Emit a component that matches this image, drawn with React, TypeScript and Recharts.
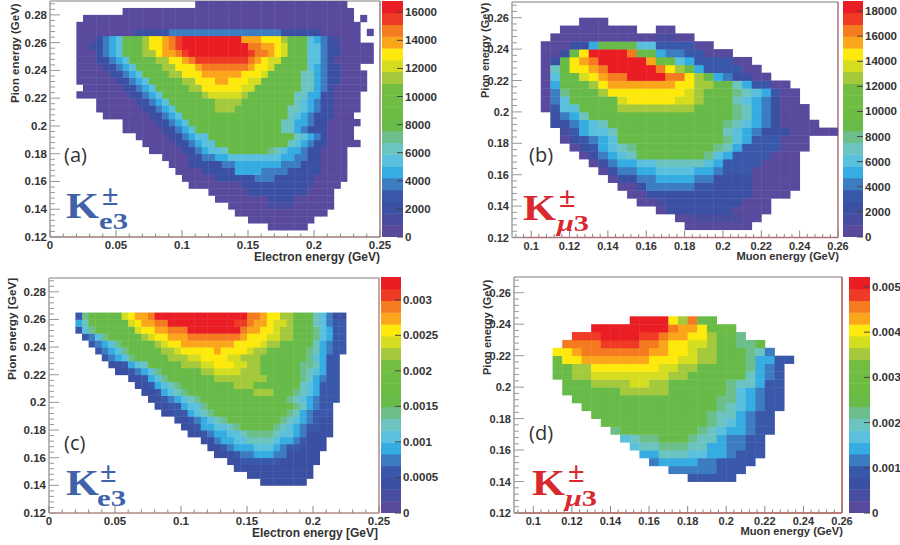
import React from "react";
import { ScatterChart, Scatter, XAxis, YAxis, ReferenceLine } from "recharts";

// each row is one pion energy bin, from the lowest bin up, written as
// [startBin, level, startBin, level, ..., endBin]. level -1 is an empty gap
const electronDataRows: number[][] = [
    [],
    [33, 0, 39],
    [30, 0, 40],
    [28, 0, 42],
    [27, 0, 33, 1, 37, 0, 43],
    [25, 0, 33, 2, 37, 0, 43],
    [24, 0, 30, 2, 39, 0, 43],
    [21, 0, 29, 2, 39, 1, 40, 0, 44],
    [20, 0, 25, 2, 31, 4, 34, 2, 40, 0, 45],
    [19, 0, 23, 2, 28, 5, 32, 4, 36, 2, 41, 0, 45],
    [18, 0, 21, 2, 26, 4, 28, 5, 35, 4, 38, 2, 41, 0, 45],
    [17, 0, 21, 2, 23, 4, 25, 5, 27, 6, 35, 5, 37, 4, 39, 2, 41, 0, 45],
    [15, 0, 20, 2, 22, 4, 23, 5, 24, 6, 26, 7, 27, 9, 33, 8, 34, 7, 35, 6, 36, 5, 38, 4, 39, 2, 41, 0, 45],
    [14, 0, 19, 2, 21, 4, 22, 5, 23, 6, 25, 9, 36, 7, 37, 6, 38, 5, 39, 4, 40, 2, 42, 0, 47],
    [13, 0, 18, 2, 20, 4, 21, 5, 22, 6, 24, 9, 37, 7, 38, 6, 39, 5, 40, 4, 41, 2, 42, 0, 46],
    [11, 0, 17, 2, 19, 4, 20, 5, 21, 6, 22, 9, 35, 7, 37, 5, 38, 4, 39, 2, 42, 0, 46],
    [11, 0, 16, 2, 18, 4, 19, 5, 20, 6, 21, 9, 35, 7, 37, 5, 39, 4, 40, 2, 42, 0, 47],
    [8, 0, 15, 2, 17, 4, 18, 5, 19, 6, 20, 9, 36, 7, 37, 6, 38, 5, 39, 4, 40, 2, 43, 0, 46],
    [7, 0, 14, 2, 16, 4, 17, 5, 18, 6, 19, 9, 25, 13, 28, 9, 36, 7, 38, 6, 39, 5, 40, 4, 41, 2, 43, 0, 47],
    [7, 0, 13, 2, 15, 4, 16, 5, 17, 6, 18, 9, 25, 13, 29, 9, 37, 7, 38, 6, 39, 5, 40, 4, 41, 2, 43, 0, 47],
    [4, 0, 12, 2, 14, 4, 15, 5, 16, 6, 17, 9, 23, 13, 24, 14, 29, 13, 30, 9, 37, 7, 39, 5, 41, 2, 43, 0, 47],
    [5, 0, 11, 2, 13, 4, 14, 5, 15, 6, 16, 9, 21, 13, 23, 15, 29, 14, 31, 9, 38, 7, 40, 5, 41, 4, 42, 2, 43, 0, 48],
    [4, 0, 10, 2, 12, 4, 13, 5, 14, 6, 15, 9, 20, 13, 22, 15, 25, 16, 27, 15, 30, 14, 32, 9, 38, 7, 40, 5, 41, 4, 42, 2, 44, 0, 48],
    [4, 0, 9, 2, 11, 4, 12, 5, 13, 6, 14, 9, 18, 13, 20, 15, 23, 16, 29, 15, 32, 14, 33, 9, 38, 7, 40, 5, 41, 4, 42, 2, 44, 0, 48],
    [4, 0, 8, 2, 10, 4, 11, 5, 12, 6, 13, 9, 17, 13, 19, 15, 22, 16, 23, 17, 30, 16, 31, 15, 33, 14, 34, 9, 39, 6, 40, 5, 41, 4, 42, 2, 44, 0, 47],
    [4, 0, 7, 2, 9, 4, 10, 5, 11, 6, 12, 9, 16, 13, 18, 15, 20, 16, 21, 17, 22, 18, 30, 17, 31, 16, 32, 15, 33, 14, 35, 9, 39, 6, 41, 4, 42, 2, 43, 0, 49],
    [4, 0, 7, 2, 8, 4, 9, 5, 10, 6, 11, 9, 14, 13, 16, 15, 17, 16, 19, 17, 20, 18, 21, 19, 30, 18, 31, 17, 33, 16, 34, 15, 35, 14, 36, 9, 39, 6, 41, 4, 42, 2, 44, 0, 49],
    [4, 0, 6, 2, 8, 4, 9, 5, 10, 6, 11, 9, 14, 13, 15, 15, 17, 16, 18, 17, 19, 18, 20, 19, 30, 17, 32, 16, 34, 15, 35, 14, 36, 9, 39, 6, 41, 4, 42, 2, 44, 0, 49],
    [4, 0, 7, 2, 8, 4, 9, 5, 10, 6, 11, 9, 14, 13, 15, 15, 17, 16, 18, 17, 19, 18, 20, 19, 29, 16, 32, 15, 35, 13, 36, 9, 39, 6, 40, 5, 41, 4, 42, 2, 43, 1, 44, 0, 47],
    [4, 0, 13, 2, 18, 4, 35, 2, 41, 0, 47, -1, 48, 0, 49],
    [4, 0, 47],
    [5, 0, 46, -1, 47, 0, 48],
    [11, 0, 46],
    [22, 0, 45],
];

const muonDataRows: number[][] = [
    [],
    [18, 0, 25],
    [17, 0, 19, 1, 24, 0, 26],
    [15, 0, 16, 2, 23, 0, 27],
    [13, 0, 15, 1, 16, 2, 24, 0, 27],
    [12, 0, 14, 2, 25, 0, 29],
    [11, 0, 13, 2, 14, 4, 19, 3, 21, 2, 25, 0, 30],
    [10, 0, 11, 2, 13, 4, 15, 5, 19, 4, 21, 2, 25, 0, 30],
    [9, 0, 10, 2, 11, 4, 13, 5, 15, 6, 19, 5, 21, 4, 22, 3, 25, 0, 30],
    [8, 0, 9, 2, 10, 4, 11, 5, 13, 6, 15, 7, 20, 6, 21, 5, 22, 3, 26, 0, 30],
    [7, 0, 8, 2, 9, 4, 10, 5, 11, 6, 12, 7, 13, 9, 20, 8, 21, 6, 22, 5, 23, 3, 27, 0, 30],
    [6, 0, 7, 2, 8, 3, 9, 5, 10, 6, 11, 7, 12, 8, 13, 9, 21, 8, 22, 7, 23, 5, 24, 3, 28, 0, 31],
    [5, 0, 6, 2, 7, 3, 8, 4, 9, 5, 10, 6, 11, 9, 22, 8, 23, 6, 24, 5, 25, 3, 28, 0, 31],
    [5, 1, 6, 3, 7, 5, 8, 6, 10, 7, 11, 9, 22, 7, 23, 6, 24, 5, 25, 4, 26, 2, 29, 0, 34],
    [4, 2, 6, 4, 7, 5, 8, 6, 9, 7, 10, 9, 22, 8, 23, 7, 24, 6, 25, 5, 26, 4, 27, 2, 28, 0, 32],
    [4, 2, 5, 4, 6, 5, 7, 7, 8, 9, 23, 8, 24, 7, 25, 5, 26, 4, 27, 2, 28, 0, 31],
    [3, 0, 4, 3, 5, 6, 7, 9, 11, 13, 19, 9, 23, 8, 24, 7, 25, 5, 26, 4, 27, 2, 28, 0, 31],
    [3, 0, 4, 4, 5, 6, 6, 9, 11, 14, 12, 15, 17, 14, 19, 13, 20, 9, 23, 7, 24, 6, 25, 5, 26, 4, 27, 2, 28, 0, 30],
    [3, 0, 4, 4, 5, 8, 6, 9, 9, 13, 10, 15, 18, 14, 19, 13, 20, 9, 23, 8, 24, 7, 25, 6, 26, 5, 27, 3, 28, 0, 30],
    [3, 0, 4, 5, 5, 9, 8, 13, 9, 15, 10, 16, 17, 15, 19, 13, 21, 9, 23, 7, 24, 5, 25, 3, 27, 0, 29],
    [3, 0, 4, 6, 5, 9, 7, 14, 8, 15, 9, 16, 10, 17, 12, 19, 16, 17, 18, 15, 19, 13, 20, 9, 21, 5, 22, 4, 23, 2, 25, 0, 27],
    [3, 0, 4, 7, 5, 9, 6, 15, 8, 16, 9, 17, 10, 19, 15, 17, 16, 15, 17, 13, 18, 9, 19, 5, 20, 3, 24, 0, 26],
    [3, 0, 4, 2, 5, 9, 6, 15, 7, 16, 8, 17, 9, 19, 14, 16, 15, 10, 17, 6, 18, 5, 19, 3, 23, 0, 25],
    [3, 0, 5, 2, 6, 9, 7, 15, 8, 19, 12, 17, 13, 9, 15, 5, 16, 4, 18, 3, 20, 0, 23],
    [3, 0, 6, 2, 8, 5, 9, 9, 13, 6, 15, 3, 19, 0, 21],
    [4, 0, 15, 1, 17, 0, 19],
    [5, 0, 13, -1, 15, 0, 17],
    [7, 0, 10],
];

const electronAcceptanceRows: number[][] = [
    [],
    [],
    [],
    [],
    [32, 2, 39],
    [30, 2, 40],
    [28, 2, 40],
    [27, 2, 29, 3, 35, 2, 41],
    [25, 2, 28, 3, 29, 4, 31, 5, 34, 4, 36, 2, 41],
    [24, 2, 26, 3, 27, 4, 28, 5, 31, 6, 34, 5, 35, 4, 36, 3, 38, 2, 42],
    [23, 2, 25, 4, 26, 5, 28, 6, 30, 7, 34, 6, 35, 5, 37, 4, 38, 3, 39, 2, 42],
    [21, 2, 23, 3, 24, 4, 25, 5, 27, 6, 29, 7, 30, 8, 34, 7, 35, 6, 37, 5, 38, 4, 39, 2, 43],
    [20, 2, 22, 3, 23, 5, 25, 6, 27, 7, 28, 8, 29, 9, 34, 8, 35, 7, 36, 6, 37, 5, 38, 4, 39, 3, 41, 2, 43],
    [19, 2, 21, 3, 22, 4, 23, 5, 24, 6, 25, 7, 26, 8, 27, 9, 35, 8, 36, 7, 37, 6, 38, 5, 39, 4, 40, 3, 41, 2, 43],
    [17, 2, 19, 3, 21, 5, 22, 6, 23, 7, 24, 8, 25, 9, 36, 8, 37, 7, 38, 5, 39, 4, 40, 3, 43],
    [16, 2, 18, 3, 20, 5, 21, 6, 23, 8, 24, 9, 37, 8, 38, 7, 39, 5, 40, 4, 41, 3, 43],
    [15, 2, 17, 3, 18, 4, 19, 5, 20, 6, 21, 7, 22, 8, 23, 9, 36, 8, 37, 7, 38, 6, 39, 5, 40, 4, 41, 3, 44],
    [14, 2, 16, 3, 17, 5, 18, 6, 19, 7, 20, 8, 21, 9, 31, 13, 34, 9, 37, 8, 38, 7, 39, 6, 40, 5, 41, 3, 44],
    [13, 2, 15, 3, 16, 5, 17, 6, 18, 7, 19, 8, 20, 9, 28, 13, 31, 9, 38, 7, 39, 6, 40, 5, 41, 3, 44],
    [12, 2, 14, 3, 15, 5, 16, 6, 17, 8, 18, 9, 25, 13, 33, 9, 38, 8, 39, 7, 40, 5, 41, 4, 42, 3, 44],
    [10, 2, 12, 3, 13, 4, 14, 5, 15, 6, 16, 8, 17, 9, 23, 13, 25, 14, 29, 13, 32, 9, 38, 8, 39, 7, 40, 6, 41, 5, 42, 3, 44],
    [9, 2, 11, 3, 12, 5, 13, 6, 14, 7, 15, 9, 20, 13, 23, 14, 25, 15, 28, 14, 30, 13, 32, 9, 38, 8, 40, 7, 41, 5, 42, 3, 44],
    [8, 3, 9, 4, 10, 5, 11, 6, 12, 8, 13, 9, 18, 13, 21, 14, 23, 15, 27, 14, 29, 13, 32, 9, 39, 8, 40, 6, 41, 5, 42, 3, 44],
    [7, 3, 8, 4, 9, 5, 10, 6, 11, 8, 12, 9, 17, 13, 19, 14, 20, 15, 25, 16, 26, 15, 30, 14, 31, 13, 33, 9, 39, 8, 40, 7, 41, 5, 42, 4, 43, 3, 45],
    [6, 3, 7, 4, 8, 5, 9, 6, 10, 8, 11, 9, 16, 13, 17, 14, 18, 15, 20, 16, 28, 15, 32, 14, 33, 13, 35, 9, 40, 7, 41, 5, 42, 4, 43, 3, 45],
    [5, 3, 6, 4, 7, 6, 8, 8, 9, 9, 14, 13, 15, 14, 16, 15, 18, 16, 21, 17, 29, 16, 30, 15, 33, 14, 35, 13, 37, 9, 40, 8, 41, 6, 42, 5, 43, 3, 45],
    [4, 3, 5, 6, 6, 8, 7, 9, 13, 14, 14, 15, 16, 16, 18, 17, 21, 19, 29, 17, 30, 16, 32, 15, 34, 14, 35, 13, 37, 9, 40, 8, 41, 6, 42, 5, 43, 3, 45],
    [4, 5, 5, 7, 6, 9, 12, 14, 13, 15, 14, 16, 16, 17, 18, 19, 28, 18, 30, 17, 31, 16, 33, 15, 34, 14, 36, 13, 37, 9, 40, 7, 41, 6, 42, 4, 43, 3, 45],
    [4, 3, 5, 8, 6, 9, 11, 14, 12, 15, 13, 16, 15, 17, 16, 19, 30, 17, 32, 16, 33, 15, 35, 13, 37, 9, 40, 7, 41, 6, 42, 4, 43, 2, 45],
];

const muonAcceptanceRows: number[][] = [
    [],
    [],
    [],
    [],
    [18, 3, 23],
    [16, 4, 21, 3, 24],
    [14, 4, 15, 5, 19, 4, 21, 3, 25],
    [13, 5, 15, 7, 18, 6, 20, 5, 22, 4, 23, 3, 26],
    [12, 6, 13, 7, 15, 8, 18, 7, 20, 5, 22, 4, 24, 3, 26],
    [11, 6, 12, 7, 13, 8, 15, 9, 18, 8, 19, 7, 21, 5, 22, 4, 24, 3, 26],
    [10, 8, 11, 9, 19, 8, 20, 7, 21, 6, 22, 5, 24, 4, 25, 3, 27],
    [9, 9, 20, 8, 21, 7, 22, 6, 23, 5, 24, 4, 25, 3, 27],
    [8, 9, 20, 8, 21, 7, 23, 5, 24, 4, 25, 3, 27],
    [7, 9, 21, 8, 22, 7, 23, 6, 24, 5, 25, 4, 26, 3, 28],
    [6, 9, 21, 8, 23, 6, 24, 5, 25, 4, 26, 3, 28],
    [5, 9, 11, 13, 16, 9, 22, 8, 23, 6, 24, 5, 25, 4, 26, 3, 28],
    [5, 9, 8, 13, 12, 14, 14, 13, 16, 9, 22, 8, 23, 7, 25, 5, 26, 3, 28],
    [4, 9, 6, 13, 8, 14, 16, 13, 18, 9, 24, 7, 25, 5, 26, 4, 27, 3, 28],
    [4, 9, 6, 13, 8, 15, 15, 14, 17, 13, 19, 9, 24, 8, 25, 5, 26, 4, 27, 3, 28],
    [4, 10, 5, 15, 7, 16, 14, 15, 17, 14, 19, 13, 21, 9, 24, 8, 25, 5, 27, 3, 29],
    [4, 15, 6, 16, 7, 17, 14, 16, 16, 15, 18, 14, 19, 13, 21, 9, 24, 8, 25, 7, 26, 4, 27],
    [5, 17, 9, 18, 13, 17, 15, 16, 16, 15, 18, 14, 20, 13, 21, 9, 23, 8, 25, 9, 26],
    [6, 18, 9, 19, 13, 18, 15, 17, 16, 16, 18, 15, 20, 13, 21, 9, 23, 8, 24],
    [8, 19, 16, 17, 17, 16, 19, 15, 20, 10, 23],
    [12, 19, 16, 15, 17, 13, 18, 17, 19, 9, 21],
];

const levelColors = [
    "#5a4a9e", "#484d9f", "#3b50a3", "#3a58aa", "#3c7cc0",
    "#35ade2", "#5ac0dd", "#6bc4c0", "#6cbf8a", "#68bb48",
    "#6cbc44", "#70bd44", "#72bd42", "#a4c93c", "#d5dd20",
    "#fde90c", "#fba51a", "#f47b20", "#ef3a26", "#ea1d25",
];

const electronMajors = [0, 0.05, 0.1, 0.15, 0.2, 0.25];
const muonMajors = [0.1, 0.12, 0.14, 0.16, 0.18, 0.2, 0.22, 0.24, 0.26];
const pionMajorsWide = [0.12, 0.14, 0.16, 0.18, 0.2, 0.22, 0.24, 0.26, 0.28];
const pionMajorsNarrow = [0.12, 0.14, 0.16, 0.18, 0.2, 0.22, 0.24, 0.26];
const barTicksA = [0, 2000, 4000, 6000, 8000, 10000, 12000, 14000, 16000];
const barTicksB = [0, 2000, 4000, 6000, 8000, 10000, 12000, 14000, 16000, 18000];
const barTicksC = [0, 0.0005, 0.001, 0.0015, 0.002, 0.0025, 0.003];
const barTicksD = [0, 0.001, 0.002, 0.003, 0.004, 0.005];

const BIN = 0.005;
const LEFT_GUTTER = 49;
const RIGHT_GUTTER = 24;
const BOTTOM_GUTTER = 28;
const labelFont = "'Liberation Sans', Arial, sans-serif";
const serifFont = "'Liberation Serif', serif";
const textColor = "#333";

type Box = { left: number; top: number; right: number; bottom: number };
type Cell = { energy: number; pion: number; level: number };

const expandRows = (rows: number[][], xMin: number, yMin: number): Cell[] => {
    const cells: Cell[] = [];
    rows.forEach((row, r) => {
        for (let i = 0; i + 2 < row.length; i += 2) {
            if (row[i + 1] < 0) continue;
            for (let c = row[i]; c < row[i + 2]; c++) {
                cells.push({ energy: xMin + (c + 0.5) * BIN, pion: yMin + (r + 0.5) * BIN, level: row[i + 1] });
            }
        }
    });
    return cells;
};

// minor ticks sit between the labelled ones, up to the end of the axis
const withMinors = (majors: number[], parts: number, lo: number, hi: number) => {
    const step = (majors[1] - majors[0]) / parts;
    const out: number[] = [];
    for (let i = -parts; i < majors.length * parts + parts; i++) {
        const v = Math.round((majors[0] + i * step) * 1e6) / 1e6;
        if (v >= lo && v <= hi) out.push(v);
    }
    return out;
};

const isMajor = (majors: number[], v: number) => majors.some((m) => Math.abs(m - v) < 1e-9);

type PanelProps = {
    box: Box;
    rows: number[][];
    xDomain: [number, number];
    yDomain: [number, number];
    xMajors: number[];
    xParts: number;
    yMajors: number[];
    edgeColor: string;
    labelSize?: number;
};

const Panel = ({ box, rows, xDomain, yDomain, xMajors, xParts, yMajors, edgeColor, labelSize = 11.5 }: PanelProps) => {
    const plotW = box.right - box.left;
    const plotH = box.bottom - box.top;
    const cellW = (plotW * BIN) / (xDomain[1] - xDomain[0]);
    const cellH = (plotH * BIN) / (yDomain[1] - yDomain[0]);
    const cells = expandRows(rows, xDomain[0], yDomain[0]);
    const drawCell = (p: any) => (
        <rect x={p.cx - cellW / 2} y={p.cy - cellH / 2} width={cellW + 0.4} height={cellH + 0.4} fill={levelColors[p.payload.level]} />
    );
    const xTick = ({ x, y, payload }: any) => {
        const major = isMajor(xMajors, payload.value);
        return (
            <g>
                <line x1={x} x2={x} y1={y} y2={y - (major ? 7 : 3.5)} stroke="#888" />
                {major && <text x={x} y={y + 12} textAnchor="middle" fontSize={labelSize} fontWeight="bold" fontFamily={labelFont} fill={textColor}>{payload.value}</text>}
            </g>
        );
    };
    const yTick = ({ x, y, payload }: any) => {
        const major = isMajor(yMajors, payload.value);
        return (
            <g>
                <line x1={x} x2={x + (major ? 10 : 5)} y1={y} y2={y} stroke="#999" />
                {major && <text x={x - 3} y={y + 4} textAnchor="end" fontSize={labelSize} fontWeight="bold" fontFamily={labelFont} fill={textColor}>{payload.value}</text>}
            </g>
        );
    };
    return (
        <div style={{ position: "absolute", left: box.left - LEFT_GUTTER, top: box.top - 2 }}>
            <ScatterChart width={plotW + LEFT_GUTTER + RIGHT_GUTTER} height={plotH + BOTTOM_GUTTER + 2} margin={{ top: 2, right: RIGHT_GUTTER, bottom: 0, left: 0 }}>
                <XAxis
                    type="number"
                    dataKey="energy"
                    domain={xDomain}
                    allowDataOverflow
                    ticks={withMinors(xMajors, xParts, xDomain[0], xDomain[1])}
                    interval={0}
                    height={BOTTOM_GUTTER}
                    tickLine={false}
                    tickSize={0}
                    tickMargin={0}
                    tick={xTick}
                    axisLine={{ stroke: edgeColor, strokeWidth: 1.5 }}
                />
                <YAxis
                    type="number"
                    dataKey="pion"
                    domain={yDomain}
                    allowDataOverflow
                    ticks={withMinors(yMajors, 5, yDomain[0], yDomain[1])}
                    interval={0}
                    width={LEFT_GUTTER}
                    tickLine={false}
                    tickSize={0}
                    tickMargin={0}
                    tick={yTick}
                    axisLine={{ stroke: "#a0a0a0", strokeWidth: 1.5 }}
                />
                <Scatter data={cells} shape={drawCell} isAnimationActive={false} />
                <ReferenceLine y={yDomain[1]} stroke="#a8a8a8" strokeWidth={1.5} />
                <ReferenceLine x={xDomain[1]} stroke={edgeColor} strokeWidth={1.5} />
            </ScatterChart>
        </div>
    );
};

type BarProps = { box: Box; step: number; ticks: number[] };

// palette key: one cell per colour level on a linear value axis
const ColorBar = ({ box, step, ticks }: BarProps) => {
    const barW = box.right - box.left;
    const barH = box.bottom - box.top;
    const cells = levelColors.map((_, level) => ({ energy: 0.5, pion: (level + 0.5) * step, level }));
    const drawCell = (p: any) => (
        <rect x={p.cx - barW / 2} y={p.cy - barH / 40} width={barW} height={barH / 20 + 0.4} fill={levelColors[p.payload.level]} />
    );
    const tick = ({ x, y, payload }: any) => (
        <g>
            <line x1={x - 6} x2={x} y1={y} y2={y} stroke="#444" />
            <text x={x + 2} y={y + 4} fontSize={11.5} fontWeight="bold" fontFamily={labelFont} fill={textColor}>{payload.value}</text>
        </g>
    );
    return (
        <div style={{ position: "absolute", left: box.left, top: box.top - 2 }}>
            <ScatterChart width={barW + 50} height={barH + 10} margin={{ top: 2, right: 0, bottom: 8, left: 0 }}>
                <XAxis type="number" dataKey="energy" domain={[0, 1]} hide />
                <YAxis
                    type="number"
                    dataKey="pion"
                    orientation="right"
                    domain={[0, 20 * step]}
                    allowDataOverflow
                    ticks={ticks}
                    interval={0}
                    width={50}
                    tickLine={false}
                    tickSize={0}
                    tickMargin={0}
                    axisLine={false}
                    tick={tick}
                />
                <Scatter data={cells} shape={drawCell} isAnimationActive={false} />
            </ScatterChart>
        </div>
    );
};

const DecayTag = ({ x, y, color, sub, subX, plusX }: any) => (
    <g fill={color} fontFamily={serifFont} fontWeight="bold">
        <text x={x} y={y} fontSize={36} textLength={33} lengthAdjust="spacingAndGlyphs">K</text>
        <text x={plusX} y={y - 13} fontSize={30}>±</text>
        <text x={subX} y={y + 11} fontSize={23} textLength={sub === "mu" ? 32 : 29} lengthAdjust="spacingAndGlyphs">
            {sub === "mu" ? <><tspan fontStyle="italic">μ</tspan>3</> : "e3"}
        </text>
    </g>
);

const boxA = { left: 49.5, top: 1, right: 379.5, bottom: 237 };
const boxB = { left: 512, top: 1.5, right: 838, bottom: 237 };
const boxC = { left: 49, top: 278, right: 379, bottom: 513 };
const boxD = { left: 514, top: 277, right: 842, bottom: 513 };

const axisTitle = { fontWeight: "bold", fontFamily: labelFont, fill: textColor } as const;

const App = () => {
    return (
        <div style={{ position: "absolute", left: 0, top: 0, width: 900, height: 545, background: "#fff", overflow: "hidden" }}>
            <Panel box={boxA} rows={electronDataRows} xDomain={[0, 0.25]} yDomain={[0.12, 0.29]} xMajors={electronMajors} xParts={5} yMajors={pionMajorsWide} edgeColor="#9b7b74" />
            <Panel box={boxB} rows={muonDataRows} xDomain={[0.09, 0.26]} yDomain={[0.12, 0.27]} xMajors={muonMajors} xParts={5} yMajors={pionMajorsNarrow} edgeColor="#b0707a" labelSize={11} />
            <Panel box={boxC} rows={electronAcceptanceRows} xDomain={[0, 0.25]} yDomain={[0.12, 0.29]} xMajors={electronMajors} xParts={5} yMajors={pionMajorsWide} edgeColor="#b58a86" />
            <Panel box={boxD} rows={muonAcceptanceRows} xDomain={[0.09, 0.26]} yDomain={[0.12, 0.27]} xMajors={muonMajors} xParts={5} yMajors={pionMajorsNarrow} edgeColor="#a8504a" labelSize={11} />
            <ColorBar box={{ left: 382, top: 1, right: 403, bottom: 237 }} step={840} ticks={barTicksA} />
            <ColorBar box={{ left: 843, top: 1, right: 863, bottom: 237 }} step={940} ticks={barTicksB} />
            <ColorBar box={{ left: 381, top: 277, right: 401, bottom: 513 }} step={0.000166} ticks={barTicksC} />
            <ColorBar box={{ left: 849, top: 277, right: 870, bottom: 513 }} step={0.000261} ticks={barTicksD} />
            <svg width={900} height={545} style={{ position: "absolute", left: 0, top: 0, pointerEvents: "none" }}>
                <text {...axisTitle} fontSize={11.5} transform="translate(19,103) rotate(-90)">Pion energy (GeV)</text>
                <text {...axisTitle} fontSize={11} transform="translate(489,98) rotate(-90)">Pion energy (GeV)</text>
                <text {...axisTitle} fontSize={11.8} transform="translate(16,380) rotate(-90)">Pion energy [GeV]</text>
                <text {...axisTitle} fontSize={11} transform="translate(491,375) rotate(-90)">Pion energy (GeV)</text>
                <text {...axisTitle} fontSize={12} x={380} y={261} textAnchor="end">Electron energy (GeV)</text>
                <text {...axisTitle} fontSize={11.2} x={839} y={260} textAnchor="end">Muon energy (GeV)</text>
                <text {...axisTitle} fontSize={12} x={378} y={537} textAnchor="end">Electron energy [GeV]</text>
                <text {...axisTitle} fontSize={11.2} x={843} y={535} textAnchor="end">Muon energy (GeV)</text>
                <g fontFamily="'Open Sans', sans-serif" fontSize={20} fill="#333">
                    <text x={64} y={162}>(a)</text>
                    <text x={529} y={162}>(b)</text>
                    <text x={64} y={450}>(c)</text>
                    <text x={529} y={440}>(d)</text>
                </g>
                <DecayTag x={66} y={218} color="#3f62a9" sub="e" plusX={102} subX={99} />
                <DecayTag x={523} y={220} color="#d9282e" sub="mu" plusX={559} subX={557} />
                <DecayTag x={66} y={495} color="#3f62a9" sub="e" plusX={100} subX={97} />
                <DecayTag x={532} y={495} color="#d9282e" sub="mu" plusX={568} subX={565} />
            </svg>
        </div>
    );
};

export default App;
